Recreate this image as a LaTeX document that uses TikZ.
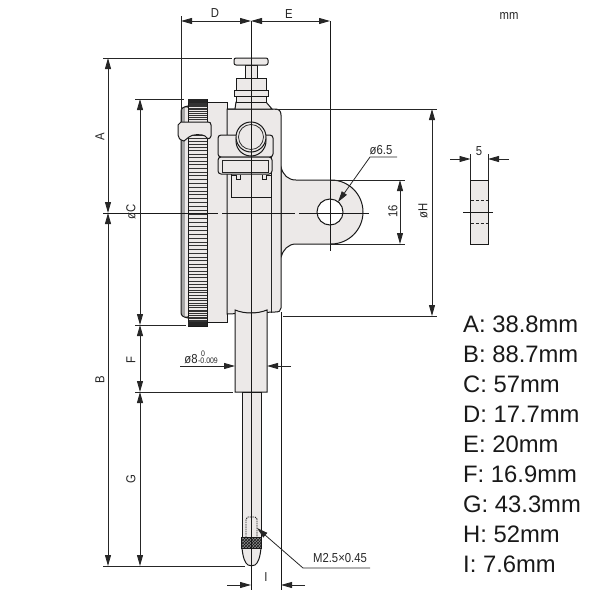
\documentclass[tikz,border=0pt]{standalone}
\usepackage{fontspec}
\setmainfont{Liberation Sans}
\usetikzlibrary{arrows.meta,patterns,positioning}
\definecolor{bodygray}{HTML}{ECE9E8}
\tikzset{
	outline/.style={draw=black!90,line width=1pt},
	body/.style={outline,fill=bodygray},
	thin/.style={draw=black!85,line width=.75pt},
	dimline/.style={draw=black!85,line width=.8pt,>={Stealth[length=11pt,width=6pt,inset=0pt]}},
	axis/.style={draw=black!90,line width=.85pt},
	dimtext/.style={inner sep=0pt,font=\fontsize{13}{13}\selectfont,xscale=.87,text=black!85},
	dimrot/.style={rotate=90,dimtext},
	tolerance/.style={inner sep=0pt,font=\fontsize{8}{8}\selectfont,xscale=.87,text=black!85},
	valuetext/.style={inner sep=0pt,anchor=west,font=\fontsize{23.8}{24}\selectfont,text=black!90}
}
\begin{document}
\begin{tikzpicture}[x=1pt,y=-1pt]
\useasboundingbox (0,0) rectangle (600,600);
% lug behind the case
\path[body] (281,167) .. controls (283,175) and (288,180) .. (296,180) -- (331,180)
	arc[start angle=90,end angle=-90,x radius=32,y radius=-32] -- (296,244)
	.. controls (288,244) and (283,250) .. (281,257) -- cycle;
\path[body,fill=white] (330,212) circle (13);
% case
\path[body,fill=black!35] (181,112) .. controls (181,108) and (183,107) .. (188,106) -- (188,318) .. controls (183,317) and (181,316) .. (181,312) -- cycle;
\fill[bodygray] (185,108) rectangle (188,316);
\path[body] (207,102) -- (227,102) -- (227,322) -- (207,322) -- cycle;
\path[body] (227,109) -- (275,109) .. controls (279,109) and (281,111) .. (281,115)
	-- (281,308) .. controls (281,311) and (279,312) .. (275,312) -- (227,314) -- cycle;
\draw[thin] (271,155) -- (271,313);
% knurled ring
\fill[bodygray] (188,99) rectangle (207,326);
\foreach \a in {-89,-87,...,89}
	\draw[black!80,line width=.55pt] (188,{212.5+113.5*sin(\a)}) -- (207,{212.5+113.5*sin(\a)});
\draw[outline] (188,99) rectangle (207,326);
\fill[black!85] (188,99) rectangle (207,103);
\fill[black!85] (188,322) rectangle (207,326);
% clamp on the ring
\path[body] (181,122) -- (208,122) .. controls (210,122) and (211,123) .. (211,125)
	-- (211,136) .. controls (210,139) and (208,140) .. (205,136) .. controls (202,134) and (192,134) .. (189,137)
	-- (184,141) .. controls (180,140) and (178,138) .. (178,135) -- (178,125) -- cycle;
% stem and spindle
\path[body] (235,310) .. controls (245,314) and (257,314) .. (267,310) -- (267,392) -- (235,392) -- cycle;
\path[body] (242,392) -- (261,392) -- (261,537) -- (242,537) -- cycle;
\path[body] (242,548) .. controls (243,558) and (245,563) .. (248,565) .. controls (250,566) and (253,566) .. (255,565)
	.. controls (258,563) and (260,558) .. (261,548) -- cycle;
\path[outline,fill=black!45] (241,537) rectangle (261,548);
\path[pattern=crosshatch,pattern color=black!90] (241,537) rectangle (261,548);
\draw[thin,dash pattern=on 1.5pt off .8pt] (246,537) -- (246,519) -- (248,517) -- (255,517) -- (257,519) -- (257,537);
% top of the spindle
\path[body] (227,109) -- (235,109) -- (236,102) -- (266,102) -- (272,109) -- cycle;
\path[body] (236,78) rectangle (266,90);
\path[body] (234,90) rectangle (268,96);
\path[body] (236,96) rectangle (266,102);
\path[body] (245,65) rectangle (257,78);
\path[body,rounded corners=2pt] (234,58) rectangle (268,65);
% locking screw and bracket
\path[body,rounded corners=3pt] (218,135) rectangle (273,157);
\path[body] (231,160) rectangle (271,197);
\draw[outline] (231,175) -- (236,175) -- (236,179) -- (240,179) -- (240,175);
\draw[outline] (271,175) -- (266,175) -- (266,179) -- (262,179) -- (262,175);
\path[body,rounded corners=3pt] (218,157) rectangle (272,174);
\draw[thin] (222,160) rectangle (268,172);
\path[body] (251,141) circle (15);
\path[body] (251,137) circle (15);
\draw[thin] (251,137) circle (12.5);
% center lines
\draw[axis] (251,21) -- (251,590);
\draw[axis] (281,312) -- (281,590);
\draw[axis] (103,213) -- (218,213);
\draw[axis] (222,213) -- (295,213);
\draw[axis] (299,213) -- (369,213);
\draw[axis] (330,21) -- (330,251);
% extension lines
\draw[thin] (181,16) -- (181,122);
\draw[thin] (103,58) -- (232,58);
\draw[thin] (135,99) -- (184,99);
\draw[thin] (135,325) -- (186,325);
\draw[thin] (135,392) -- (233,392);
\draw[thin] (103,566) -- (245,566);
\draw[thin] (275,109) -- (437,109);
\draw[thin] (283,316) -- (437,316);
\draw[thin] (331,180) -- (405,180);
\draw[thin] (331,244) -- (405,244);
% dimensions
\coordinate (d1) at (181,21);
\coordinate (d2) at (251,21);
\coordinate (d3) at (330,21);
\coordinate (a1) at (108,58);
\coordinate (a2) at (108,213);
\coordinate (b2) at (108,566);
\coordinate (c1) at (140,99);
\coordinate (c2) at (140,325);
\coordinate (f2) at (140,392);
\coordinate (g2) at (140,566);
\coordinate (h1) at (432,109);
\coordinate (h2) at (432,316);
\coordinate (k1) at (400,180);
\coordinate (k2) at (400,244);
\draw[dimline,<->] (d1) -- (d2);
\draw[dimline,<->] (d2) -- (d3);
\draw[dimline,<->] (a1) -- (a2);
\draw[dimline,<->] (a2) -- (b2);
\draw[dimline,<->] (c1) -- (c2);
\draw[dimline,<->] (c2) -- (f2);
\draw[dimline,<->] (f2) -- (g2);
\draw[dimline,<->] (h1) -- (h2);
\draw[dimline,<->] (k1) -- (k2);
\draw[dimline,->] (180,366) -- (235,366);
\draw[dimline,->] (291,366) -- (267,366);
\draw[dimline,->] (227,585) -- (251,585);
\draw[dimline,->] (305,585) -- (281,585);
% side view
\path[body] (470.5,180) rectangle (488,244);
\draw[thin,dash pattern=on 3pt off 2pt] (470.5,200) -- (488,200);
\draw[thin,dash pattern=on 3pt off 2pt] (470.5,223) -- (488,223);
\draw[axis] (463,212) -- (493,212);
\draw[thin] (470.5,154) -- (470.5,180);
\draw[thin] (488,154) -- (488,180);
\draw[dimline,->] (450,159) -- (470.5,159);
\draw[dimline,->] (509,159) -- (488,159);
% leaders
\draw[dimline,->] (397,157) -- (370,157) -- (338,202);
\draw[dimline,->] (370,568) -- (303,568) -- (257,528);
% labels
\node[dimtext] (labelD) at (215,13) {D};
\node[dimtext] (labelE) at (289,14) {E};
\node[dimtext] (unit) at (509,16) {mm};
\node[dimrot] (labelA) at (100,137) {A};
\node[dimrot] (labelB) at (100,380) {B};
\node[dimrot] (labelC) at (131,212) {øC};
\node[dimrot] (labelF) at (131,360) {F};
\node[dimrot] (labelG) at (131,479) {G};
\node[dimrot] (labelH) at (423,211) {øH};
\node[dimrot] (label16) at (393,211) {16};
\node[dimtext] (labelFive) at (479,151) {5};
\node[dimtext] (labelHole) at (381,150) {ø6.5};
\node[dimtext] (labelStem) at (191,359) {ø8};
\node[tolerance] (labelUp) at (203,354) {0};
\node[tolerance] (labelLow) at (208,361) {-0.009};
\node[dimtext] (labelThread) at (340,558) {M2.5×0.45};
\node[dimtext] (labelI) at (266,577) {I};
% list of values
\foreach \name/\y/\txt in {vA/324/A: 38.8mm,vB/354/B: 88.7mm,vC/384/C: 57mm,vD/414/D: 17.7mm,vE/444/E: 20mm,vF/474/F: 16.9mm,vG/504/G: 43.3mm,vH/534/H: 52mm,vI/564/I: 7.6mm}
	\node[valuetext] (\name) at (463,\y) {\txt};
\end{tikzpicture}
\end{document}
